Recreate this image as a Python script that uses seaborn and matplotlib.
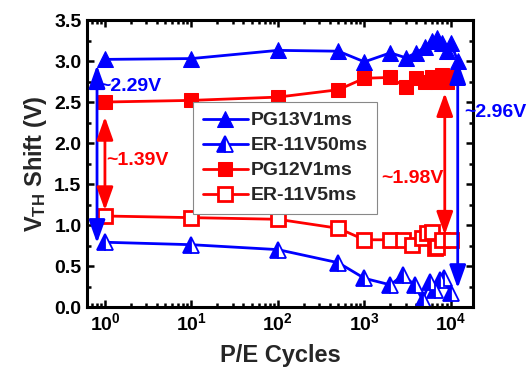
import matplotlib
matplotlib.use("Agg")
import matplotlib.pyplot as plt
import seaborn as sns
import numpy as np
from matplotlib.ticker import LogLocator, FixedLocator, MultipleLocator, NullFormatter

sns.set_style("ticks")
plt.rcParams['font.family'] = ['Liberation Sans', 'DejaVu Sans']
plt.rcParams['font.weight'] = 'bold'
plt.rcParams['mathtext.fontset'] = 'custom'
plt.rcParams['mathtext.rm'] = 'Liberation Sans:bold'
plt.rcParams['mathtext.bf'] = 'Liberation Sans:bold'
plt.rcParams['mathtext.it'] = 'Liberation Sans:bold'

# ---- data ----
pg13_x = [1, 10, 100, 500, 1000, 2000, 3000, 4000, 5000, 6000, 7000, 8000, 9000, 10000, 12000]
pg13_y = [3.02, 3.03, 3.13, 3.12, 2.99, 3.10, 3.04, 3.10, 3.17, 3.25, 3.28, 3.22, 3.12, 3.22, 3.00]

er50_x = [1, 10, 100, 500, 1000, 2000, 2800, 3800, 4700, 5700, 6500, 7500, 8400, 10000]
er50_y = [0.79, 0.76, 0.70, 0.54, 0.35, 0.27, 0.39, 0.27, 0.09, 0.30, 0.21, 0.33, 0.35, 0.17]

pg12_x = [1, 10, 100, 500, 1000, 2000, 3000, 4000, 5000, 6000, 7000, 8000, 9000, 10000]
pg12_y = [2.50, 2.52, 2.56, 2.65, 2.79, 2.80, 2.68, 2.79, 2.74, 2.80, 2.74, 2.83, 2.74, 2.80]

er5_x = [1, 10, 100, 500, 1000, 2000, 2800, 3600, 4600, 5300, 6000, 6500, 7000, 8000, 10000]
er5_y = [1.11, 1.09, 1.07, 0.96, 0.82, 0.82, 0.82, 0.76, 0.84, 0.90, 0.92, 0.72, 0.73, 0.82, 0.82]

# double-headed arrows marking the memory window
arrow_x = [0.81, 1.0, 8500, 12000]
arrow_y0 = [0.78, 1.18, 0.88, 0.23]
arrow_y1 = [2.95, 2.32, 2.61, 3.00]
arrow_col = ['#0000FF', '#FF0000', '#FF0000', '#0000FF']
ann_text = ['~2.29V', '~1.39V', '~1.98V', '~2.96V']
ann_x = [0.87, 1.04, 1550, 14300]
ann_y = [2.69, 1.79, 1.57, 2.37]

xticks = [1, 10, 100, 1000, 10000]
xticklabels = [r'$10^{0}$', r'$10^{1}$', r'$10^{2}$', r'$10^{3}$', r'$10^{4}$']

BLUE = '#0000FF'
RED = '#FF0000'

fig = plt.figure(figsize=(5.32, 3.78), dpi=100)
ax = fig.add_axes([0.1635, 0.1878, 0.7255, 0.7592])

lw = 2.0
sns.lineplot(x=pg13_x, y=pg13_y, ax=ax, color=BLUE, marker='^', markersize=11,
             markeredgecolor=BLUE, markerfacecolor=BLUE, lw=lw, estimator=None, sort=False,
             label='PG13V1ms')
sns.lineplot(x=er50_x, y=er50_y, ax=ax, color=BLUE, marker='^', markersize=11,
             markeredgecolor=BLUE, markerfacecolor=BLUE, fillstyle='left',
             markerfacecoloralt='white', markeredgewidth=1.3, lw=lw, estimator=None, sort=False,
             label='ER-11V50ms')
sns.lineplot(x=pg12_x, y=pg12_y, ax=ax, color=RED, marker='s', markersize=9.5,
             markeredgecolor=RED, markerfacecolor=RED, lw=lw, estimator=None, sort=False,
             label='PG12V1ms')
sns.lineplot(x=er5_x, y=er5_y, ax=ax, color=RED, marker='s', markersize=9.5,
             markeredgecolor=RED, markerfacecolor='white', markeredgewidth=2.0,
             lw=lw, estimator=None, sort=False, label='ER-11V5ms')

for x, y0, y1, c in zip(arrow_x, arrow_y0, arrow_y1, arrow_col):
    ax.annotate('', xy=(x, y0), xytext=(x, y1),
                arrowprops=dict(arrowstyle='<|-|>,head_length=1.4,head_width=0.5',
                                color=c, lw=2.0, shrinkA=0, shrinkB=0))

for t, x, y, c in zip(ann_text, ann_x, ann_y, arrow_col):
    ax.text(x, y, t, color=c, fontsize=14, fontweight='bold', ha='left', va='center',
            clip_on=False)

ax.set_xscale('log')
ax.set_xlim(0.62, 18000)
ax.set_ylim(0, 3.5)
ax.xaxis.set_major_locator(FixedLocator(xticks))
ax.set_xticklabels(xticklabels)
ax.xaxis.set_minor_locator(LogLocator(base=10, subs=np.arange(2, 10)))
ax.xaxis.set_minor_formatter(NullFormatter())
ax.yaxis.set_major_locator(MultipleLocator(0.5))
ax.yaxis.set_minor_locator(MultipleLocator(0.25))
ax.yaxis.set_major_formatter(matplotlib.ticker.FormatStrFormatter('%.1f'))

ax.tick_params(which='both', direction='in', top=True, right=True, width=1.8,
               labelsize=14, colors='black')
ax.tick_params(which='major', length=5, pad=4)
ax.tick_params(which='minor', length=3)
for s in ax.spines.values():
    s.set_linewidth(2.2)
    s.set_color('black')
    s.set_visible(True)

ax.set_xlabel('P/E Cycles', fontsize=17, fontweight='bold', labelpad=7)
ax.set_ylabel(r'V$_{\mathregular{TH}}$ Shift (V)', fontsize=17, fontweight='bold', labelpad=4)

leg = ax.legend(loc='upper left', bbox_to_anchor=(0.275, 0.714), fontsize=14,
                frameon=True, fancybox=False, edgecolor='#888888', framealpha=1,
                handlelength=2.3, borderpad=0.5, labelspacing=0.38, handletextpad=0.15,
                borderaxespad=0)
leg.get_frame().set_linewidth(0.8)

fig.savefig('out.png', dpi=100)
